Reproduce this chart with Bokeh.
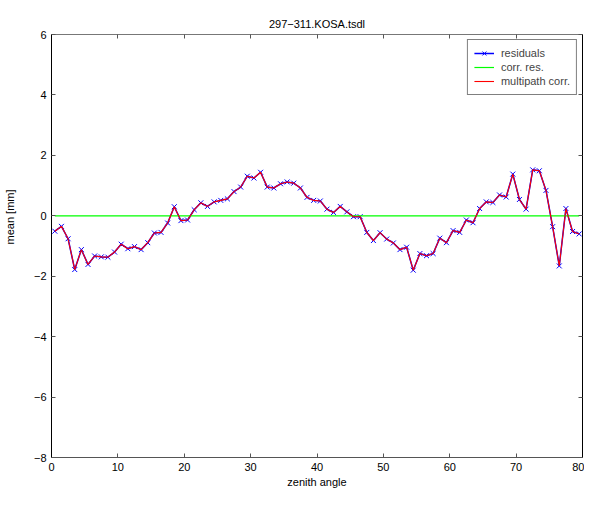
from bokeh.plotting import figure
from bokeh.models import Range1d, LinearAxis, SingleIntervalTicker, Legend, LegendItem, CustomJSTickFormatter
from bokeh.embed import file_html
from bokeh.resources import INLINE

zenith = [0.5, 1.5, 2.5, 3.5, 4.5, 5.5, 6.5, 7.5, 8.5, 9.5,
          10.5, 11.5, 12.5, 13.5, 14.5, 15.5, 16.5, 17.5, 18.5, 19.5,
          20.5, 21.5, 22.5, 23.5, 24.5, 25.5, 26.5, 27.5, 28.5, 29.5,
          30.5, 31.5, 32.5, 33.5, 34.5, 35.5, 36.5, 37.5, 38.5, 39.5,
          40.5, 41.5, 42.5, 43.5, 44.5, 45.5, 46.5, 47.5, 48.5, 49.5,
          50.5, 51.5, 52.5, 53.5, 54.5, 55.5, 56.5, 57.5, 58.5, 59.5,
          60.5, 61.5, 62.5, 63.5, 64.5, 65.5, 66.5, 67.5, 68.5, 69.5,
          70.5, 71.5, 72.5, 73.5, 74.5, 75.5, 76.5, 77.5, 78.5, 79.5]

residuals = [-0.51, -0.35, -0.76, -1.78, -1.12, -1.61, -1.33, -1.36, -1.37, -1.20,
             -0.94, -1.09, -1.02, -1.12, -0.89, -0.57, -0.55, -0.24, 0.30, -0.16,
             -0.14, 0.20, 0.43, 0.31, 0.46, 0.51, 0.56, 0.80, 0.95, 1.31,
             1.25, 1.44, 0.95, 0.92, 1.06, 1.12, 1.08, 0.92, 0.61, 0.51,
             0.49, 0.22, 0.11, 0.31, 0.13, -0.03, -0.03, -0.55, -0.82, -0.56,
             -0.77, -0.90, -1.12, -1.04, -1.80, -1.25, -1.32, -1.25, -0.74, -0.89,
             -0.49, -0.55, -0.14, -0.23, 0.24, 0.46, 0.44, 0.69, 0.62, 1.38,
             0.54, 0.22, 1.52, 1.49, 0.84, -0.36, -1.66, 0.24, -0.52, -0.60]

multipath_corr = [-0.51, -0.35, -0.76, -1.78, -1.12, -1.61, -1.33, -1.36, -1.37, -1.20,
                  -0.94, -1.09, -1.02, -1.12, -0.89, -0.57, -0.55, -0.24, 0.30, -0.16,
                  -0.14, 0.20, 0.43, 0.31, 0.46, 0.51, 0.56, 0.80, 0.95, 1.31,
                  1.25, 1.44, 0.95, 0.92, 1.06, 1.12, 1.08, 0.92, 0.61, 0.51,
                  0.49, 0.22, 0.11, 0.31, 0.13, -0.03, -0.03, -0.55, -0.82, -0.56,
                  -0.77, -0.90, -1.12, -1.04, -1.80, -1.25, -1.32, -1.25, -0.74, -0.89,
                  -0.49, -0.55, -0.14, -0.23, 0.24, 0.46, 0.44, 0.69, 0.62, 1.38,
                  0.54, 0.22, 1.52, 1.49, 0.84, -0.36, -1.66, 0.24, -0.52, -0.60]

corr_res = [0.0, 0.0, 0.0, 0.0, 0.0, 0.0, 0.0, 0.0, 0.0, 0.0,
            0.0, 0.0, 0.0, 0.0, 0.0, 0.0, 0.0, 0.0, 0.0, 0.0,
            0.0, 0.0, 0.0, 0.0, 0.0, 0.0, 0.0, 0.0, 0.0, 0.0,
            0.0, 0.0, 0.0, 0.0, 0.0, 0.0, 0.0, 0.0, 0.0, 0.0,
            0.0, 0.0, 0.0, 0.0, 0.0, 0.0, 0.0, 0.0, 0.0, 0.0,
            0.0, 0.0, 0.0, 0.0, 0.0, 0.0, 0.0, 0.0, 0.0, 0.0,
            0.0, 0.0, 0.0, 0.0, 0.0, 0.0, 0.0, 0.0, 0.0, 0.0,
            0.0, 0.0, 0.0, 0.0, 0.0, 0.0, 0.0, 0.0, 0.0, 0.0]

y_ticks = [-8, -6, -4, -2, 0, 2, 4, 6]
y_tick_labels = {-8: "\u22128", -6: "\u22126", -4: "\u22124", -2: "\u22122",
                 0: "0", 2: "2", 4: "4", 6: "6"}

title_text = "297\u2212311.KOSA.tsdl"
x_label = "zenith angle"
y_label = "mean [mm]"

FONT = "Liberation Sans"
FS = "11px"

p = figure(width=584, height=491, output_backend="svg", toolbar_location=None,
           x_range=Range1d(0, 80), y_range=Range1d(-8, 6),
           min_border_left=50, min_border_right=2, min_border_top=34, min_border_bottom=34,
           title=title_text)
p.xgrid.visible = False
p.ygrid.visible = False
p.outline_line_color = None
p.background_fill_color = "white"
p.border_fill_color = "white"

p.title.align = "center"
p.title.text_font = FONT
p.title.text_font_size = FS
p.title.text_font_style = "normal"
p.title.text_color = "black"
p.title.standoff = 10


def style_axis(ax, color, show_labels):
    ax.axis_line_color = color
    ax.major_tick_line_color = "#555555"
    ax.major_tick_in = 4
    ax.major_tick_out = 0
    ax.minor_tick_in = 0
    ax.minor_tick_out = 0
    ax.major_label_text_font = FONT
    ax.major_label_text_font_size = FS
    ax.major_label_text_color = "black"
    ax.axis_label_text_font = FONT
    ax.axis_label_text_font_size = FS
    ax.axis_label_text_font_style = "normal"
    ax.axis_label_text_color = "black"
    if not show_labels:
        ax.major_label_standoff = 0
        ax.formatter = CustomJSTickFormatter(code="return '';")


p.xaxis.ticker = SingleIntervalTicker(interval=10, num_minor_ticks=0)
p.yaxis.ticker = y_ticks
p.yaxis.major_label_overrides = y_tick_labels
style_axis(p.xaxis[0], "#555555", True)
style_axis(p.yaxis[0], "black", True)
p.xaxis.major_label_standoff = 5
p.xaxis.axis_label = x_label
p.xaxis.axis_label_standoff = 2
p.yaxis.major_label_standoff = 5
# leading no-break spaces lift the centred label to sit level with zero, as in the reference
p.yaxis.axis_label = "\u00a0" * 19 + y_label
p.yaxis.axis_label_standoff = 15

top = LinearAxis(ticker=SingleIntervalTicker(interval=10, num_minor_ticks=0))
style_axis(top, "#777777", False)
top.major_label_standoff = 7
right = LinearAxis(ticker=y_ticks)
style_axis(right, "black", False)
p.add_layout(top, "above")
p.add_layout(right, "right")

r_blue = p.line(zenith, residuals, line_color="#0000ff", line_width=1.5)
r_x = p.scatter(zenith, residuals, marker="x", size=7, line_color="#0000ff", line_width=1)
r_green = p.line(zenith, corr_res, line_color="#00ff00", line_width=1.2)
r_red = p.line(zenith, multipath_corr, line_color="#ff0000", line_width=1.1)

legend = Legend(items=[LegendItem(label="residuals", renderers=[r_blue, r_x]),
                       LegendItem(label="corr. res.", renderers=[r_green]),
                       LegendItem(label="multipath corr.", renderers=[r_red])],
                location="top_right")
legend.border_line_color = "black"
legend.border_line_width = 1
legend.background_fill_color = "white"
legend.background_fill_alpha = 1
legend.label_text_font = FONT
legend.label_text_font_size = FS
legend.glyph_width = 20
legend.glyph_height = 14
legend.label_height = 14
legend.spacing = 0
legend.padding = 6
legend.margin = 5
legend.label_standoff = 7
p.add_layout(legend, "center")

open("out.html", "w").write(file_html(p, INLINE))
